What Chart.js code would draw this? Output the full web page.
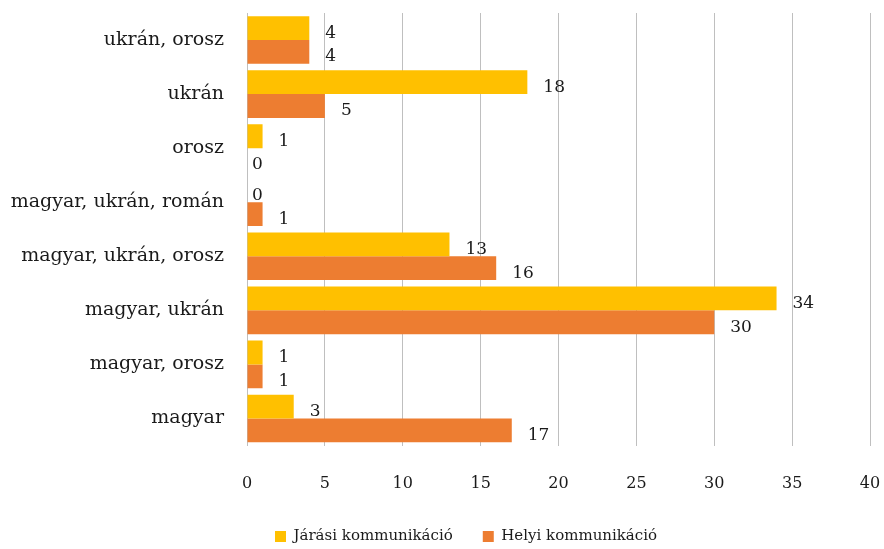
<!DOCTYPE html>
<html><head><meta charset="utf-8">
<script src="https://cdn.jsdelivr.net/npm/chart.js@4/dist/chart.umd.min.js"></script>
<style>html,body{margin:0;padding:0;background:#fff}#wrap{width:884px;height:549px}</style>
</head><body><div id="wrap"><canvas id="c" width="884" height="549"></canvas></div>
<script>
const categories = ["ukrán, orosz","ukrán","orosz","magyar, ukrán, román","magyar, ukrán, orosz","magyar, ukrán","magyar, orosz","magyar"];
const jarasi = [4,18,1,0,13,34,1,3];
const helyi = [4,5,0,1,16,30,1,17];
const seriesNames = ["Járási kommunikáció","Helyi kommunikáció"];
const xTicks = [0,5,10,15,20,25,30,35,40];

const FONT = "'DejaVu Serif', serif";

const labelPlugin = {
  id:'valLabels',
  afterLayout(chart){
    const L = chart.legend;
    if (L) { L.left += 31; L.right += 31; }
  },
  afterDatasetsDraw(chart){
    const ctx = chart.ctx;
    ctx.save();
    ctx.font = "17px " + FONT;
    ctx.fillStyle = "#1a1a1a";
    ctx.textBaseline = "middle";
    ctx.textAlign = "left";
    chart.data.datasets.forEach((ds,di)=>{
      const meta = chart.getDatasetMeta(di);
      meta.data.forEach((bar,i)=>{
        const v = ds.data[i];
        const x = v === 0 ? bar.x + 5 : bar.x + 16;
        ctx.fillText(String(v), x, bar.y + 5);
      });
    });
    ctx.restore();
  }
};

new Chart(document.getElementById('c'),{
  type:'bar',
  data:{
    labels:categories,
    datasets:[
      {label:seriesNames[0],data:jarasi,backgroundColor:'#FFC000',borderWidth:0},
      {label:seriesNames[1],data:helyi,backgroundColor:'#ED7D31',borderWidth:0}
    ]
  },
  options:{
    indexAxis:'y',
    responsive:false,
    animation:false,
    devicePixelRatio:1,
    layout:{autoPadding:false,padding:{top:13,right:14,left:0,bottom:-5}},
    datasets:{bar:{categoryPercentage:0.88,barPercentage:1.0}},
    scales:{
      x:{
        min:0,max:40,
        afterBuildTicks(s){ s.ticks = xTicks.map(v=>({value:v})); },
        grid:{color:'#BFBFBF',lineWidth:1,drawTicks:false},
        border:{display:false},
        ticks:{padding:29,maxRotation:0,minRotation:0,color:'#1a1a1a',font:{family:FONT,size:16}},
        afterFit(s){ s.height = 53.5; s.paddingLeft = 0; s.paddingRight = 0; s.paddingTop = 0; s.paddingBottom = 0; }
      },
      y:{
        grid:{display:false,drawTicks:false},
        border:{display:false},
        ticks:{padding:23,color:'#1a1a1a',font:{family:FONT,size:19}},
        afterFit(s){ s.width = 247; s.paddingTop = 0; s.paddingBottom = 0; s.paddingLeft = 0; s.paddingRight = 0; }
      }
    },
    plugins:{
      legend:{
        position:'bottom',
        labels:{boxWidth:11,boxHeight:11,padding:30,color:'#1a1a1a',font:{family:FONT,size:15}}
      },
      tooltip:{enabled:false}
    }
  },
  plugins:[labelPlugin]
});
</script></body></html>
